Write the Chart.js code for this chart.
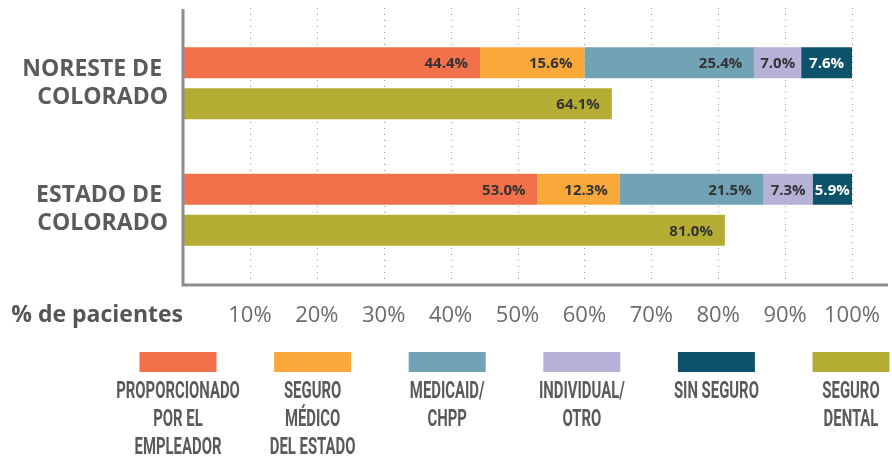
<!DOCTYPE html>
<html lang="es">
<head>
<meta charset="utf-8">
<title>Tipo de seguro de los pacientes</title>
<script src="https://cdn.jsdelivr.net/npm/chart.js@4.4.1/dist/chart.umd.min.js"></script>
<style>
  html, body { margin: 0; padding: 0; background: #fff; }
</style>
</head>
<body>
<canvas id="chart" width="892" height="459"></canvas>
<script>
// regions (two bars each: insurance mix + dental coverage)
const regions = [["NORESTE DE ", "COLORADO"], ["ESTADO DE ", "COLORADO"]];

// series names, split into the lines used in the legend
const seriesNames = [
  ["PROPORCIONADO", "POR EL", "EMPLEADOR"],
  ["SEGURO", "MÉDICO", "DEL ESTADO"],
  ["MEDICAID/", "CHPP"],
  ["INDIVIDUAL/", "OTRO"],
  ["SIN SEGURO"],
  ["SEGURO", "DENTAL"],
];

// % of patients
const empleador = [44.4, 53.0];
const medicoEstado = [15.6, 12.3];
const medicaid = [25.4, 21.5];
const individual = [7.0, 7.3];
const sinSeguro = [7.6, 5.9];
const dental = [64.1, 81.0];

const tickValues = [10, 20, 30, 40, 50, 60, 70, 80, 90, 100];

const series = [empleador, medicoEstado, medicaid, individual, sinSeguro, dental];
const colors = ["#F2714B", "#FAA83A", "#72A2B6", "#B6B1D6", "#0C526B", "#B5AC33"];
const labelColors = ["#333", "#333", "#333", "#333", "#fff", "#333"];

const datasets = series.map((values, i) => ({
  label: seriesNames[i].join(" "),
  data: values,
  backgroundColor: colors[i],
  stack: i === 5 ? "dental" : "seguro",
  barPercentage: 0.756,
  categoryPercentage: 0.648,
  borderWidth: 0,
}));

// dotted grid + axis frame, a bit taller than the plot area
const frame = {
  id: "frame",
  beforeDatasetsDraw(chart) {
    const { ctx, chartArea, scales: { x } } = chart;
    ctx.save();
    ctx.strokeStyle = "#9a9a9a";
    ctx.lineWidth = 1;
    ctx.setLineDash([1, 5]);
    tickValues.forEach(v => {
      const px = Math.round(x.getPixelForValue(v)) + 0.5;
      ctx.beginPath();
      ctx.moveTo(px, chartArea.top - 12);
      ctx.lineTo(px, chartArea.bottom + 10);
      ctx.stroke();
    });
    ctx.restore();
  },
  afterDatasetsDraw(chart) {
    const { ctx, chartArea } = chart;
    ctx.save();
    ctx.strokeStyle = "#8d8d8d";
    ctx.lineWidth = 3;
    ctx.beginPath();
    ctx.moveTo(chartArea.left, chartArea.top - 11);
    ctx.lineTo(chartArea.left, chartArea.bottom + 12);
    ctx.lineTo(chart.width - 4, chartArea.bottom + 12);
    ctx.stroke();
    ctx.restore();
  },
};

// value labels inside the bars
const valueLabels = {
  id: "valueLabels",
  afterDatasetsDraw(chart) {
    const { ctx } = chart;
    ctx.save();
    ctx.font = "bold 15px 'Open Sans'";
    ctx.textBaseline = "middle";
    chart.data.datasets.forEach((ds, i) => {
      chart.getDatasetMeta(i).data.forEach((bar, j) => {
        const text = ds.data[j].toFixed(1) + "%";
        const w = bar.x - bar.base;
        const tw = ctx.measureText(text).width;
        ctx.fillStyle = labelColors[i];
        if (w < tw + 24) {
          ctx.textAlign = "center";
          ctx.fillText(text, (bar.x + bar.base) / 2, bar.y + 1);
        } else {
          ctx.textAlign = "right";
          ctx.fillText(text, bar.x - 12, bar.y + 1);
        }
      });
    });
    ctx.restore();
  },
};

// axis caption + legend underneath
const footer = {
  id: "footer",
  afterDraw(chart) {
    const { ctx, chartArea } = chart;
    ctx.save();
    ctx.fillStyle = "#555";
    ctx.font = "bold 23px 'Open Sans'";
    ctx.textAlign = "right";
    ctx.textBaseline = "middle";
    ctx.fillText("% de pacientes", chartArea.left, 315);

    ctx.font = "bold 24px Roboto";
    ctx.textAlign = "center";
    chart.data.datasets.forEach((ds, i) => {
      const cx = 178 + i * 134.6;
      ctx.fillStyle = ds.backgroundColor;
      ctx.fillRect(cx - 38.5, 352, 77, 20);
      ctx.fillStyle = "#5a5a5a";
      seriesNames[i].forEach((line, k) => {
        ctx.save();
        ctx.translate(cx, 392 + k * 28);
        ctx.scale(0.62, 1);
        ctx.fillText(line, 0, 0);
        ctx.restore();
      });
    });
    ctx.restore();
  },
};

new Chart(document.getElementById("chart"), {
  type: "bar",
  data: { labels: regions, datasets },
  options: {
    indexAxis: "y",
    responsive: false,
    animation: false,
    layout: { padding: { top: 20, right: 40, bottom: 126, left: 0 } },
    scales: {
      x: {
        stacked: true,
        min: 0,
        max: 100,
        grid: { display: false, drawTicks: false },
        border: { display: false },
        ticks: {
          stepSize: 10,
          autoSkip: false,
          maxRotation: 0,
          padding: 30,
          color: "#6b6b6b",
          font: { family: "'Open Sans'", size: 22 },
          callback: v => (tickValues.includes(v) ? v + "%" : ""),
        },
        afterFit: s => {
          s.height = 60;
          s.paddingLeft = 0;
          s.paddingRight = 0;
        },
      },
      y: {
        stacked: true,
        grid: { display: false, drawTicks: false },
        border: { display: false },
        ticks: {
          padding: 15,
          color: "#5b5b5b",
          font: { family: "'Open Sans'", size: 23, weight: "bold", lineHeight: 1.22 },
        },
        afterFit: s => {
          s.width = 183;
          s.paddingTop = 0;
          s.paddingBottom = 0;
        },
      },
    },
    plugins: {
      legend: { display: false },
      tooltip: { enabled: false },
    },
  },
  plugins: [frame, valueLabels, footer],
});
</script>
</body>
</html>
